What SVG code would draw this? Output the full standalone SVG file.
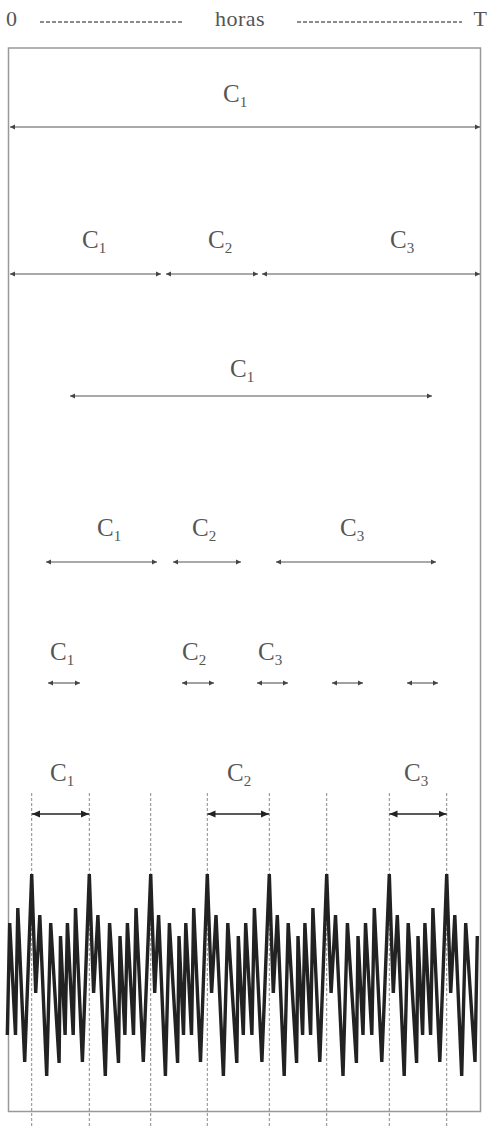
<svg xmlns="http://www.w3.org/2000/svg" width="489" height="1128" viewBox="0 0 489 1128">
<style>
.lbl{font-family:"Liberation Serif","Times New Roman",serif;font-size:25px;fill:#555}
.sub{font-size:15px}
.hdr{font-family:"Liberation Serif","Times New Roman",serif;font-size:22px;fill:#555}
.arr{stroke:#555;stroke-width:1.1;fill:none;marker-start:url(#ah);marker-end:url(#ah)}
.arrd{stroke:#222;stroke-width:1.3;fill:none;marker-start:url(#ahd);marker-end:url(#ahd)}
.guide{stroke:#8a8a8a;stroke-width:1;stroke-dasharray:3 2;fill:none}
.hdash{stroke:#666;stroke-width:1.3;stroke-dasharray:4 2;fill:none}
</style>
<defs>
<marker id="ah" markerUnits="userSpaceOnUse" markerWidth="6" markerHeight="6" refX="5" refY="3" orient="auto-start-reverse"><path d="M0,0.5 L5,3 L0,5.5 z" fill="#444"/></marker>
<marker id="ahd" markerUnits="userSpaceOnUse" markerWidth="9" markerHeight="8" refX="8" refY="4" orient="auto-start-reverse"><path d="M0,0.5 L8,4 L0,7.5 z" fill="#222"/></marker>
</defs>
<rect width="489" height="1128" fill="#fff"/>
<g id="header">
<text class="hdr" x="6" y="26">0</text>
<line class="hdash" x1="40" y1="22" x2="183" y2="22"/>
<text class="hdr" x="240" y="26" text-anchor="middle" letter-spacing="0.5">horas</text>
<line class="hdash" x1="297" y1="22" x2="462" y2="22"/>
<text class="hdr" x="487" y="26" text-anchor="end">T</text>
</g>
<g id="frame"><rect x="8.5" y="48" width="472" height="1063.5" fill="none" stroke="#999" stroke-width="1.5"/></g>
<g id="guides">
<line class="guide" x1="31.7" y1="793" x2="31.7" y2="1128"/>
<line class="guide" x1="89.3" y1="793" x2="89.3" y2="1128"/>
<line class="guide" x1="150.7" y1="793" x2="150.7" y2="1128"/>
<line class="guide" x1="207.3" y1="793" x2="207.3" y2="1128"/>
<line class="guide" x1="269.3" y1="793" x2="269.3" y2="1128"/>
<line class="guide" x1="326.7" y1="793" x2="326.7" y2="1128"/>
<line class="guide" x1="389.3" y1="793" x2="389.3" y2="1128"/>
<line class="guide" x1="446.7" y1="793" x2="446.7" y2="1128"/>
</g>
<g id="signal"><polyline fill="none" stroke="#222" stroke-width="3.4" stroke-linejoin="miter" stroke-miterlimit="6" points="7.3,1035 9.7,923 15.5,1035 17.8,908 24.7,1062 31.7,874 35.7,993 39.8,915 46.7,1076 50.7,923 59.1,1063 60.5,936 65.1,1035 67.4,923 73.2,1035 75.5,908 82.4,1062 89.3,874 93.6,993 97.9,915 105.3,1076 109.6,923 118.5,1063 120,936 124.9,1035 127.4,923 133.5,1035 136,908 143.3,1062 150.7,874 154.7,993 158.6,915 165.4,1076 169.4,923 177.6,1063 179,936 183.5,1035 185.8,923 191.5,1035 193.7,908 200.5,1062 207.3,874 211.6,993 216,915 223.4,1076 227.8,923 236.8,1063 238.3,936 243.3,1035 245.7,923 251.9,1035 254.4,908 261.9,1062 269.3,874 273.3,993 277.3,915 284.2,1076 288.2,923 296.6,1063 298,936 302.6,1035 304.9,923 310.6,1035 312.9,908 319.8,1062 326.7,874 331.1,993 335.5,915 343,1076 347.4,923 356.4,1063 358,936 363,1035 365.5,923 371.8,1035 374.3,908 381.8,1062 389.3,874 393.3,993 397.3,915 404.2,1076 408.2,923 416.6,1063 418,936 422.6,1035 424.9,923 430.6,1035 432.9,908 439.8,1062 446.7,874 450.7,993 454.8,915 461.7,1076 465.7,923 475,1062 477.3,936"/></g>
<g id="connectors">
<line class="arr" x1="10" y1="127" x2="480" y2="127"/>
<line class="arr" x1="10" y1="274" x2="161" y2="274"/>
<line class="arr" x1="166" y1="274" x2="258" y2="274"/>
<line class="arr" x1="262" y1="274" x2="480" y2="274"/>
<line class="arr" x1="70" y1="396" x2="432" y2="396"/>
<line class="arr" x1="46" y1="562" x2="157" y2="562"/>
<line class="arr" x1="173" y1="562" x2="241" y2="562"/>
<line class="arr" x1="276" y1="562" x2="436" y2="562"/>
<line class="arr" x1="48" y1="683" x2="80" y2="683"/>
<line class="arr" x1="182" y1="683" x2="214" y2="683"/>
<line class="arr" x1="257" y1="683" x2="288" y2="683"/>
<line class="arr" x1="332" y1="683" x2="363" y2="683"/>
<line class="arr" x1="407" y1="683" x2="438" y2="683"/>
<line class="arrd" x1="32" y1="814" x2="89" y2="814"/>
<line class="arrd" x1="207.5" y1="814" x2="269" y2="814"/>
<line class="arrd" x1="389.5" y1="814" x2="446.5" y2="814"/>
</g>
<g id="row1"><text class="lbl" x="223" y="102">C<tspan class="sub" dy="5">1</tspan></text></g>
<g id="row2">
<text class="lbl" x="82" y="248">C<tspan class="sub" dy="5">1</tspan></text>
<text class="lbl" x="208" y="248">C<tspan class="sub" dy="5">2</tspan></text>
<text class="lbl" x="390" y="248">C<tspan class="sub" dy="5">3</tspan></text>
</g>
<g id="row3"><text class="lbl" x="230" y="377">C<tspan class="sub" dy="5">1</tspan></text></g>
<g id="row4">
<text class="lbl" x="97" y="536">C<tspan class="sub" dy="5">1</tspan></text>
<text class="lbl" x="192" y="536">C<tspan class="sub" dy="5">2</tspan></text>
<text class="lbl" x="340" y="536">C<tspan class="sub" dy="5">3</tspan></text>
</g>
<g id="row5">
<text class="lbl" x="50" y="660">C<tspan class="sub" dy="5">1</tspan></text>
<text class="lbl" x="182" y="660">C<tspan class="sub" dy="5">2</tspan></text>
<text class="lbl" x="258" y="660">C<tspan class="sub" dy="5">3</tspan></text>
</g>
<g id="row6">
<text class="lbl" x="50" y="781">C<tspan class="sub" dy="5">1</tspan></text>
<text class="lbl" x="227" y="781">C<tspan class="sub" dy="5">2</tspan></text>
<text class="lbl" x="404" y="781">C<tspan class="sub" dy="5">3</tspan></text>
</g>
</svg>
